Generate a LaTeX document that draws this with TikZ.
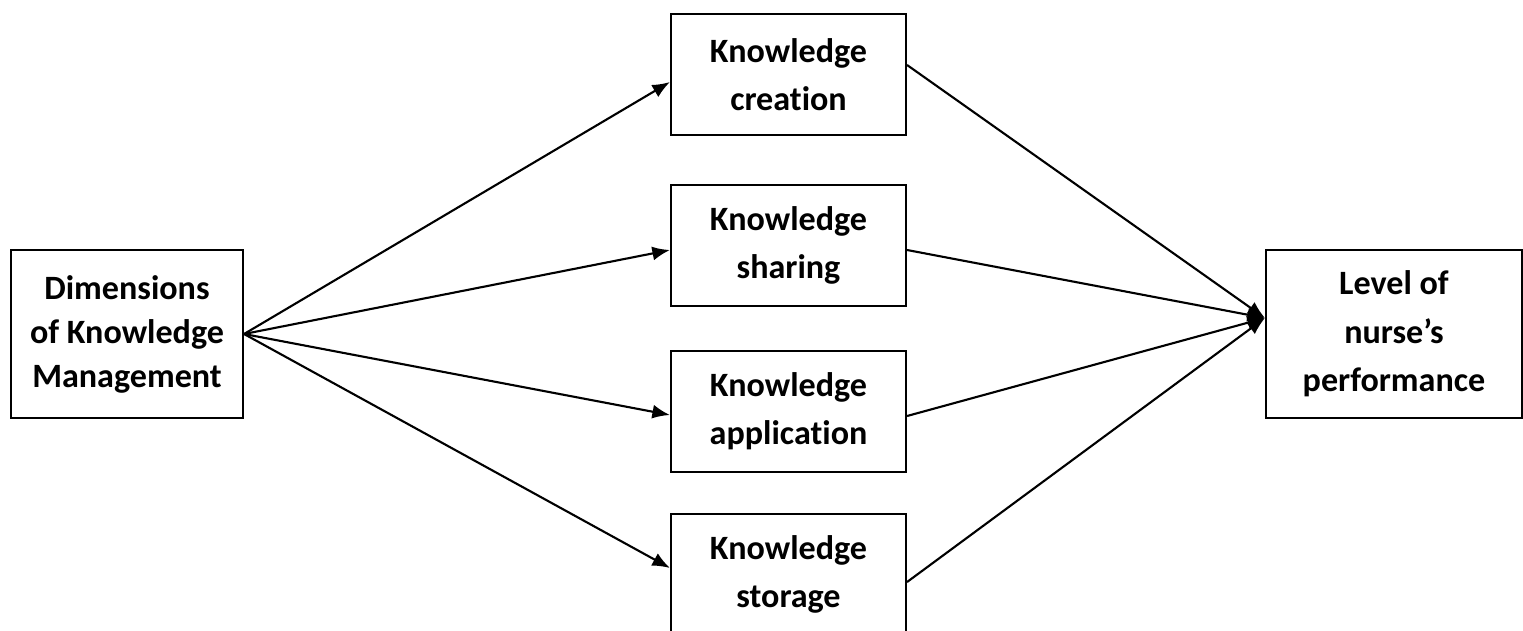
\documentclass[tikz,border=0pt]{standalone}
\usepackage{fontspec}
\setmainfont{Carlito}[Ligatures=NoCommon]
\usepackage{tikz}
\usetikzlibrary{arrows.meta}
\tikzset{>={Latex[length=10pt,width=8pt]}}
\tikzset{kbox/.style={draw,line width=1.2pt,align=center,inner sep=0pt,
    font=\bfseries\fontsize{19.4}{27.5}\selectfont}}

\begin{document}
\begin{tikzpicture}
      \useasboundingbox (0,0) rectangle (30.46,12.6);
      \node[kbox,minimum width=4.64cm,minimum height=3.36cm,
        font=\bfseries\fontsize{19.4}{25}\selectfont] (dim) at (2.54,5.92)
        {Dimensions\\of Knowledge\\Management};
      \node[kbox,minimum width=4.70cm,minimum height=2.42cm] (create) at (15.77,11.11) {Knowledge\\creation};
      \node[kbox,minimum width=4.70cm,minimum height=2.42cm] (share) at (15.77,7.69) {Knowledge\\sharing};
      \node[kbox,minimum width=4.70cm,minimum height=2.42cm] (apply) at (15.77,4.37) {Knowledge\\application};
      \node[kbox,minimum width=4.70cm,minimum height=2.42cm] (store) at (15.77,1.11) {Knowledge\\storage};
      \node[kbox,minimum width=5.12cm,minimum height=3.36cm] (perf) at (27.88,5.92) {Level of\\nurse’s\\performance};
      \coordinate (hub) at ([yshift=0.32cm]perf.west);
      \draw[line width=1.2pt,->] (dim.east) -- ([yshift=-0.15cm]create.west);
      \draw[line width=1.2pt,->] (dim.east) -- ([yshift=-0.09cm]share.west);
      \draw[line width=1.2pt,->] (dim.east) -- ([yshift=-0.07cm]apply.west);
      \draw[line width=1.2pt,->] (dim.east) -- ([yshift=0.13cm]store.west);
      \draw[line width=1.2pt,->] ([yshift=0.19cm]create.east) -- (hub);
      \draw[line width=1.2pt,->] ([yshift=-0.09cm]share.east) -- (hub);
      \draw[line width=1.2pt,->] ([yshift=-0.09cm]apply.east) -- (hub);
      \draw[line width=1.2pt,->] ([yshift=-0.15cm]store.east) -- (hub);
\end{tikzpicture}
\end{document}
